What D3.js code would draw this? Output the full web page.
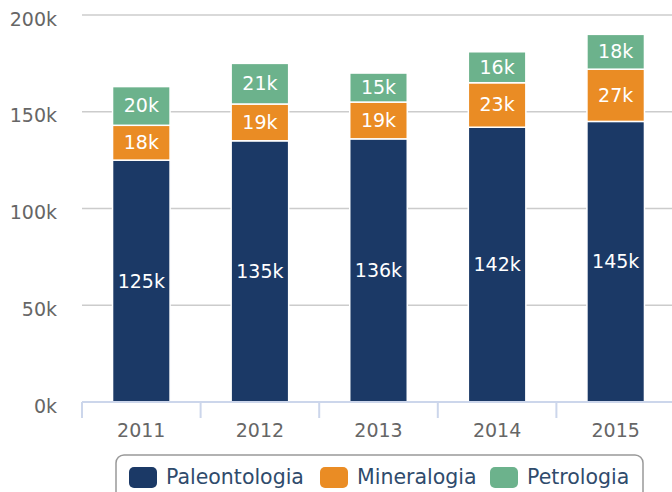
<!DOCTYPE html>
<html>
<head>
<meta charset="utf-8">
<script src="https://cdn.jsdelivr.net/npm/d3@7"></script>
<style>
  html, body { margin: 0; padding: 0; background: #fff; overflow: hidden; }
  svg { display: block; font-family: "DejaVu Sans", sans-serif; }
</style>
</head>
<body>
<div id="chart"></div>
<script>
// values in thousands
const years = ['2011', '2012', '2013', '2014', '2015'];
const seriesNames = ['Paleontologia', 'Mineralogia', 'Petrologia'];
const paleontologia = [125, 135, 136, 142, 145];
const mineralogia = [18, 19, 19, 23, 27];
const petrologia = [20, 21, 15, 16, 18];
const yTicks = [0, 50, 100, 150, 200];
const colors = ['#1b3966', '#ea8c24', '#6cb28c'];

const width = 672, height = 492;
const margin = { top: 15, right: -3, bottom: 90, left: 82 };

const rows = years.map((y, i) => ({
  year: y,
  Paleontologia: paleontologia[i],
  Mineralogia: mineralogia[i],
  Petrologia: petrologia[i]
}));

const svg = d3.select('#chart').append('svg')
  .attr('width', width)
  .attr('height', height);

const x = d3.scaleBand()
  .domain(years)
  .range([margin.left, width - margin.right])
  .paddingInner(0.515)
  .paddingOuter(0.2575);

const bandStep = (width - margin.right - margin.left) / years.length;

const y = d3.scaleLinear()
  .domain([0, 200])
  .range([height - margin.bottom, margin.top]);

// gridlines
svg.append('g')
  .selectAll('line')
  .data(yTicks.filter(d => d > 0))
  .join('line')
  .attr('x1', margin.left)
  .attr('x2', width)
  .attr('y1', d => y(d))
  .attr('y2', d => y(d))
  .attr('stroke', '#cccccc')
  .attr('stroke-width', 1.5);

// y labels
svg.append('g')
  .selectAll('text')
  .data(yTicks)
  .join('text')
  .attr('x', 57)
  .attr('y', d => y(d) + 5)
  .attr('text-anchor', 'end')
  .attr('dominant-baseline', 'middle')
  .attr('fill', '#666666')
  .style('font-size', '19px')
  .text(d => d + 'k');

// stacked bars
const stack = d3.stack().keys(seriesNames);
const layers = stack(rows);

const groups = svg.append('g')
  .selectAll('g')
  .data(layers)
  .join('g')
  .attr('fill', (d, i) => colors[i]);

groups.selectAll('rect')
  .data(d => d)
  .join('rect')
  .attr('x', d => x(d.data.year))
  .attr('width', x.bandwidth())
  .attr('y', d => y(d[1]))
  .attr('height', d => y(d[0]) - y(d[1]))
  .attr('stroke', '#ffffff')
  .attr('stroke-width', 1.5);

groups.selectAll('text')
  .data(d => d)
  .join('text')
  .attr('x', d => x(d.data.year) + x.bandwidth() / 2)
  .attr('y', d => (y(d[0]) + y(d[1])) / 2 + 1)
  .attr('text-anchor', 'middle')
  .attr('dominant-baseline', 'middle')
  .attr('fill', '#ffffff')
  .style('font-size', '19px')
  .text(d => (d[1] - d[0]) + 'k');

// x axis
const axisY = y(0);
svg.append('line')
  .attr('x1', margin.left)
  .attr('x2', width)
  .attr('y1', axisY)
  .attr('y2', axisY)
  .attr('stroke', '#ccd6eb')
  .attr('stroke-width', 2);

svg.append('g')
  .selectAll('line')
  .data(d3.range(years.length + 1))
  .join('line')
  .attr('x1', i => margin.left + i * bandStep)
  .attr('x2', i => margin.left + i * bandStep)
  .attr('y1', axisY)
  .attr('y2', axisY + 16)
  .attr('stroke', '#ccd6eb')
  .attr('stroke-width', 2);

svg.append('g')
  .selectAll('text')
  .data(years)
  .join('text')
  .attr('x', d => x(d) + x.bandwidth() / 2)
  .attr('y', 437)
  .attr('text-anchor', 'middle')
  .attr('fill', '#666666')
  .style('font-size', '19px')
  .text(d => d);

// legend
const legend = svg.append('g');
legend.append('rect')
  .attr('x', 116)
  .attr('y', 455)
  .attr('width', 527)
  .attr('height', 60)
  .attr('rx', 8)
  .attr('fill', 'none')
  .attr('stroke', '#999999')
  .attr('stroke-width', 1.5);

const legendX = [129, 320, 490];
const items = legend.selectAll('g.item')
  .data(seriesNames)
  .join('g')
  .attr('class', 'item')
  .attr('transform', (d, i) => `translate(${legendX[i]},467)`);

items.append('rect')
  .attr('width', 28)
  .attr('height', 21)
  .attr('rx', 5)
  .attr('fill', (d, i) => colors[i]);

items.append('text')
  .attr('x', 37)
  .attr('y', 11)
  .attr('dominant-baseline', 'middle')
  .attr('fill', '#2f4b6c')
  .style('font-size', '20.5px')
  .text(d => d);
</script>
</body>
</html>
